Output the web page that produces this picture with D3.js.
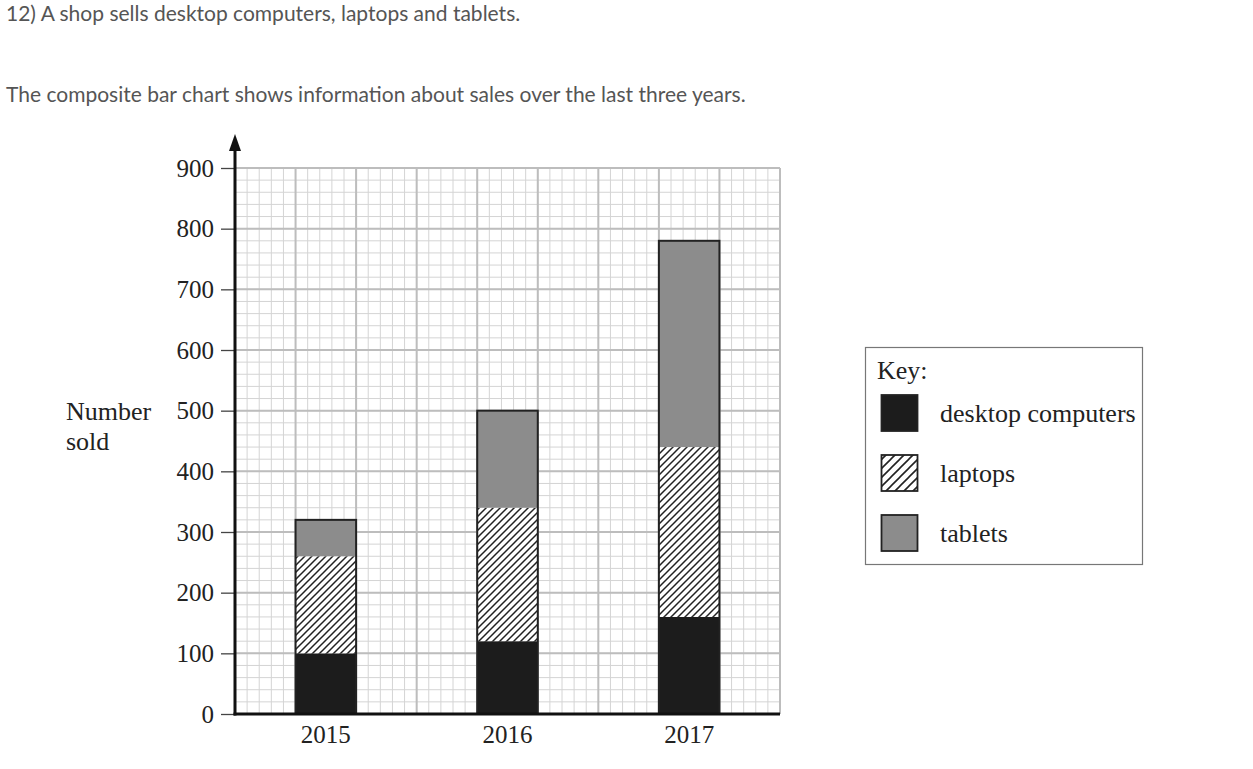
<!DOCTYPE html>
<html>
<head>
<meta charset="utf-8">
<script src="https://cdn.jsdelivr.net/npm/d3@7"></script>
<style>
  html, body { margin: 0; padding: 0; background: #fff; }
  svg { display: block; }
</style>
</head>
<body>
<svg id="chart" width="1253" height="769"></svg>
<script>
const years = ["2015", "2016", "2017"];
const seriesNames = ["desktop computers", "laptops", "tablets"];
const desktop = [100, 120, 160];
const laptops = [160, 220, 280];
const tablets = [60, 160, 340];
const yTicks = [0, 100, 200, 300, 400, 500, 600, 700, 800, 900];

const svg = d3.select("#chart");
const serif = "'Liberation Serif', 'Times New Roman', serif";
const ink = "#222";

// header text
svg.append("text").attr("x", 6).attr("y", 21)
  .style("font-family", "Lato, sans-serif").style("font-size", "21px").attr("fill", "#555")
  .text("12) A shop sells desktop computers, laptops and tablets.");
svg.append("text").attr("x", 6).attr("y", 102)
  .style("font-family", "Lato, sans-serif").style("font-size", "21px").attr("fill", "#555")
  .text("The composite bar chart shows information about sales over the last three years.");

// defs: hatch patterns
const defs = svg.append("defs");
function hatch(id, s, w) {
  const p = defs.append("pattern").attr("id", id)
    .attr("patternUnits", "userSpaceOnUse").attr("width", s).attr("height", s);
  p.append("rect").attr("width", s).attr("height", s).attr("fill", "#fff");
  p.append("path").attr("d", `M-1,1 l2,-2 M0,${s} l${s},${-s} M${s - 1},${s + 1} l2,-2`)
    .attr("stroke", "#222").attr("stroke-width", w);
}
hatch("hatch", 7, 1.5);
hatch("hatchLeg", 9, 1.6);

// scales
const x0 = 235, x1 = 780, yBase = 714, yTop = 168;
const xCols = d3.scaleLinear().domain([0, 9]).range([x0, x1]);
const y = d3.scaleLinear().domain([0, 900]).range([yBase, yTop]);
const xBand = d3.scaleBand().domain(years).range([x0, x1])
  .paddingInner(2/3).paddingOuter(1/3);

// grid
const g = svg.append("g");
const minorX = d3.range(0, 9.0001, 0.2);
const minorY = d3.range(0, 900.001, 20);
g.selectAll(".vmin").data(minorX).join("line")
  .attr("x1", d => xCols(d)).attr("x2", d => xCols(d))
  .attr("y1", yTop).attr("y2", yBase)
  .attr("stroke", "#d4d4d4").attr("stroke-width", 1);
g.selectAll(".hmin").data(minorY).join("line")
  .attr("x1", x0).attr("x2", x1)
  .attr("y1", d => y(d)).attr("y2", d => y(d))
  .attr("stroke", "#d4d4d4").attr("stroke-width", 1);
g.selectAll(".vmaj").data(d3.range(0, 10)).join("line")
  .attr("x1", d => xCols(d)).attr("x2", d => xCols(d))
  .attr("y1", yTop).attr("y2", yBase)
  .attr("stroke", "#bdbdbd").attr("stroke-width", 2);
g.selectAll(".hmaj").data(yTicks).join("line")
  .attr("x1", x0).attr("x2", x1)
  .attr("y1", d => y(d)).attr("y2", d => y(d))
  .attr("stroke", "#bdbdbd").attr("stroke-width", 2);

// stacked bars
const rows = years.map((yr, i) => ({year: yr, desktop: desktop[i], laptops: laptops[i], tablets: tablets[i]}));
const stack = d3.stack().keys(["desktop", "laptops", "tablets"])(rows);
const fills = {desktop: "#1c1c1c", laptops: "url(#hatch)", tablets: "#8c8c8c"};
const bars = svg.append("g");
stack.forEach(layer => {
  bars.selectAll(null).data(layer).join("rect")
    .attr("x", d => xBand(d.data.year))
    .attr("width", xBand.bandwidth())
    .attr("y", d => y(d[1]))
    .attr("height", d => y(d[0]) - y(d[1]))
    .attr("fill", fills[layer.key]);
});
bars.selectAll(".outline").data(stack[stack.length - 1]).join("rect")
  .attr("x", d => xBand(d.data.year))
  .attr("width", xBand.bandwidth())
  .attr("y", d => y(d[1]))
  .attr("height", d => y(0) - y(d[1]))
  .attr("fill", "none").attr("stroke", ink).attr("stroke-width", 2);

// y axis with ticks
const yAxis = d3.axisLeft(y).tickValues(yTicks).tickSize(14).tickPadding(7).tickFormat(d3.format("d"));
const ya = svg.append("g").attr("transform", `translate(${x0},0)`).call(yAxis);
ya.select(".domain").remove();
ya.selectAll(".tick line").attr("stroke", "#444").attr("stroke-width", 1.3);
ya.selectAll(".tick text").style("font-family", serif).style("font-size", "25px").attr("fill", ink);

// axis lines
svg.append("line").attr("x1", x0).attr("x2", x0).attr("y1", yBase + 1.5).attr("y2", 148)
  .attr("stroke", "#111").attr("stroke-width", 3);
svg.append("path").attr("d", `M${x0},134 L${x0 - 6},151 L${x0 + 6},151 Z`).attr("fill", "#111");
svg.append("line").attr("x1", x0 - 1.5).attr("x2", x1).attr("y1", yBase).attr("y2", yBase)
  .attr("stroke", "#111").attr("stroke-width", 3);

// x labels
const xAxis = d3.axisBottom(xBand).tickSize(0).tickPadding(11);
const xa = svg.append("g").attr("transform", `translate(0,${yBase})`).call(xAxis);
xa.select(".domain").remove();
xa.selectAll(".tick text").style("font-family", serif).style("font-size", "25px").attr("fill", ink);

// y label
const yl = svg.append("text").style("font-family", serif).style("font-size", "26px").attr("fill", ink);
yl.append("tspan").attr("x", 66).attr("y", 420).text("Number");
yl.append("tspan").attr("x", 66).attr("y", 450).text("sold");

// legend
const leg = svg.append("g");
leg.append("rect").attr("x", 865.5).attr("y", 347.5).attr("width", 277).attr("height", 217)
  .attr("fill", "#fff").attr("stroke", "#777").attr("stroke-width", 1.2);
leg.append("text").attr("x", 877).attr("y", 379).style("font-family", serif)
  .style("font-size", "26px").attr("fill", ink).text("Key:");
const legFills = ["#1c1c1c", "url(#hatchLeg)", "#8c8c8c"];
const ly = d3.scalePoint().domain(seriesNames).range([413, 533]);
seriesNames.forEach((name, i) => {
  leg.append("rect").attr("x", 881.5).attr("y", ly(name) - 18).attr("width", 36).attr("height", 36)
    .attr("fill", legFills[i]).attr("stroke", ink).attr("stroke-width", 1.8);
  leg.append("text").attr("x", 940).attr("y", ly(name) + 9).style("font-family", serif)
    .style("font-size", "26px").attr("fill", ink).text(name);
});
</script>
</body>
</html>
